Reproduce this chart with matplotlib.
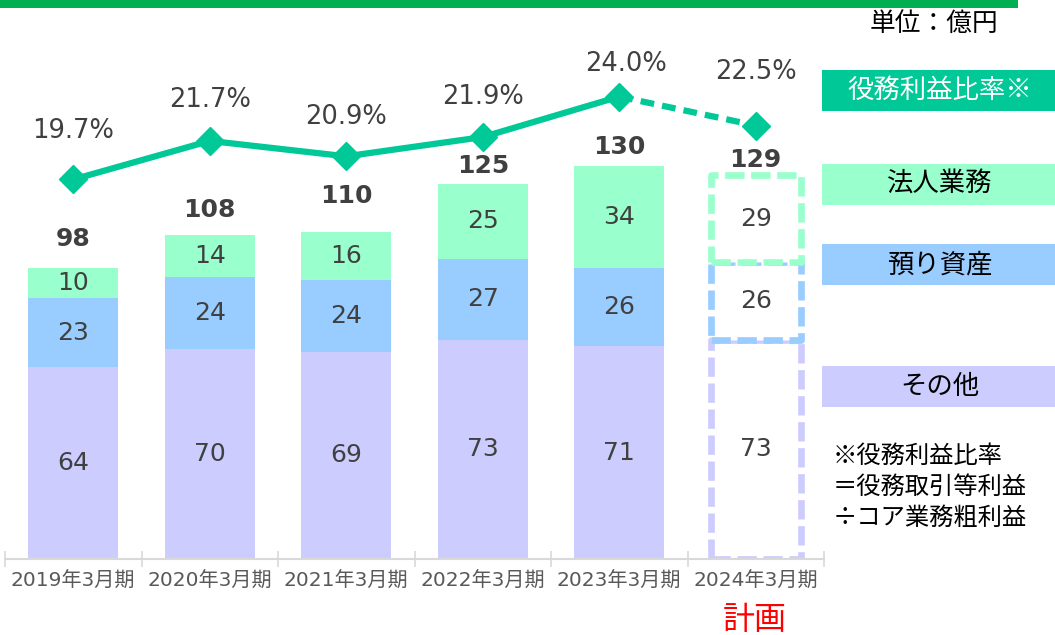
import matplotlib
matplotlib.use("Agg")
import matplotlib.pyplot as plt
from matplotlib.patches import Rectangle

plt.rcParams['font.family'] = ['DejaVu Sans', 'Noto Sans CJK JP']

# ── データ ───────────────────────────────────────────────
years = ['2019年3月期', '2020年3月期', '2021年3月期', '2022年3月期', '2023年3月期', '2024年3月期']
other = [64, 70, 69, 73, 71, 73]        # その他
assets = [23, 24, 24, 27, 26, 26]       # 預り資産
corporate = [10, 14, 16, 25, 34, 29]    # 法人業務
totals = [98, 108, 110, 125, 130, 129]
ratio = [19.7, 21.7, 20.9, 21.9, 24.0, 22.5]   # 役務利益比率 (%)
# ────────────────────────────────────────────────────────

C_OTHER = '#CCCCFF'
C_ASSETS = '#99CCFF'
C_CORP = '#99FFCC'
C_LINE = '#00C896'
TXT = '#404040'

W, H = 1055, 635
fig = plt.figure(figsize=(W / 100, H / 100), dpi=100)
ax = fig.add_axes([5 / W, (H - 559) / H, (824 - 5) / W, (559 - 60) / H])
ax.set_ylim(0, 499 / 3.0)
ax.set_xlim(-0.5, 5.5)

x = list(range(len(years)))
bw = 0.66
n_act = 5  # 実績 5期 + 計画 1期

# 実績
for i in range(n_act):
    b0 = 0
    for vals, col in [(other, C_OTHER), (assets, C_ASSETS), (corporate, C_CORP)]:
        ax.bar(x[i], vals[i], bw, bottom=b0, color=col, linewidth=0)
        ax.text(x[i], b0 + vals[i] / 2, str(vals[i]), ha='center', va='center',
                fontsize=18, color=TXT)
        b0 += vals[i]

# 計画（点線枠）
i = 5
b0 = 0
for vals, col in [(other, C_OTHER), (assets, C_ASSETS), (corporate, C_CORP)]:
    ax.bar(x[i], vals[i], bw, bottom=b0, facecolor='white', edgecolor=col,
           linewidth=4.8, linestyle=(0, (2.9, 1.0)), joinstyle='round')
    ax.text(x[i], b0 + vals[i] / 2, str(vals[i]), ha='center', va='center',
            fontsize=18, color=TXT)
    b0 += vals[i]

# 合計ラベル
stack_tops = [o + a + c for o, a, c in zip(other, assets, corporate)]
tot_off = [29, 25, 36, 18, 19, 15]  # px
for i in x:
    ax.annotate(str(totals[i]), (x[i], stack_tops[i]), xytext=(0, tot_off[i] * 0.72),
                textcoords='offset points', ha='center', va='center',
                fontsize=18, fontweight='bold', color=TXT)

# 軸
for s in ['left', 'right', 'top']:
    ax.spines[s].set_visible(False)
ax.spines['bottom'].set_color('#D9D9D9')
ax.spines['bottom'].set_linewidth(1.5)
ax.set_yticks([])
ax.set_xticks(x)
ax.set_xticklabels(years, fontsize=14.5, color='#595959')
ax.tick_params(axis='x', which='major', length=0, pad=9)
ax.set_xticks([v - 0.5 for v in range(len(years) + 1)], minor=True)
ax.tick_params(axis='x', which='minor', length=12, direction='inout', color='#D9D9D9', width=1.2)

# 役務利益比率
ax2 = ax.twinx()
ax2.set_ylim(0, 25.9)
ax2.axis('off')
ax2.plot(x[:5], ratio[:5], color=C_LINE, lw=4.5, marker='D', ms=14, zorder=3)
ax2.plot(x[4:], ratio[4:], color=C_LINE, lw=4.5, ls=(0, (2.2, 1.3)), zorder=3)
ax2.plot(x[5], ratio[5], color=C_LINE, marker='D', ms=14, zorder=3)
pct_off = [(0, 48), (0, 41), (0, 39), (0, 40), (7, 33), (0, 54)]  # px
for i in x:
    ax2.annotate(f'{ratio[i]:.1f}%', (x[i], ratio[i]),
                 xytext=(pct_off[i][0] * 0.72, pct_off[i][1] * 0.72),
                 textcoords='offset points', ha='center', va='center',
                 fontsize=18.5, color=TXT)

# 上部の緑線
fig.add_artist(Rectangle((0, 1 - 8 / H), 1018 / W, 8 / H, transform=fig.transFigure,
                         color='#00B050', lw=0))
fig.text(934 / W, 1 - 24 / H, '単位：億円', ha='center', va='center', fontsize=18.5,
         color='black', family=['Noto Sans CJK JP'])

# 凡例ボックス
legend_items = [('役務利益比率※', C_LINE, 'white', 70),
                ('法人業務', C_CORP, 'black', 164),
                ('預り資産', C_ASSETS, 'black', 244),
                ('その他', C_OTHER, 'black', 366)]
for label, col, tc, ytop in legend_items:
    fig.add_artist(Rectangle((822 / W, 1 - (ytop + 41) / H), (W - 822) / W, 41 / H,
                             transform=fig.transFigure, color=col, lw=0))
    fig.text(940 / W, 1 - (ytop + 20.5) / H, label, ha='center', va='center',
             fontsize=19, color=tc, family=['Noto Sans CJK JP'])

# 注記
notes = ['※役務利益比率', '＝役務取引等利益', '÷コア業務粗利益']
for k, t in enumerate(notes):
    fig.text(833 / W, 1 - (456 + 31 * k) / H, t, ha='left', va='center',
             fontsize=17.5, color='black', family=['Noto Sans CJK JP'])

fig.text(755 / W, 1 - 620 / H, '計画', ha='center', va='center', fontsize=23,
         color='#FF0000', family=['Noto Sans CJK JP'])

fig.savefig('out.png', dpi=100)
